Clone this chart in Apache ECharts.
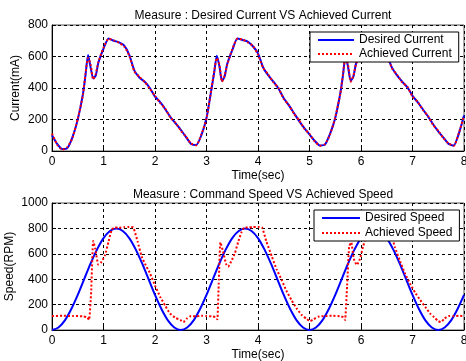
<!DOCTYPE html>
<html>
<head>
<meta charset="utf-8">
<script src="https://cdn.jsdelivr.net/npm/echarts@6/dist/echarts.min.js"></script>
<style>html,body{margin:0;padding:0;background:#fff}#c{width:466px;height:361px}</style>
</head>
<body>
<div id="c"></div>
<script>
// ---- Data ----
const xTicks = [0,1,2,3,4,5,6,7,8];
const currentTicks = [0,200,400,600,800];
const speedTicks = [0,200,400,600,800,1000];

const tCurrent = [0,0.1,0.2,0.3,0.4,0.5,0.6,0.65,0.7,0.75,0.8,0.85,0.9,1.0,1.1,1.2,1.3,1.4,1.5,1.6,1.7,1.8,1.9,2.0,2.1,2.2,2.3,2.4,2.5,2.6,2.7,2.8,2.9,3.0,3.1,3.15,3.2,3.25,3.3,3.35,3.4,3.5,3.6,3.7,3.8,3.9,4.0,4.1,4.2,4.3,4.4,4.5,4.6,4.7,4.8,4.9,5.0,5.1,5.2,5.3,5.4,5.5,5.6,5.65,5.7,5.75,5.8,5.85,5.9,6.0,6.1,6.2,6.3,6.4,6.5,6.6,6.7,6.8,6.9,7.0,7.1,7.2,7.3,7.4,7.5,7.6,7.7,7.8,7.9,8.0];
const desiredCurrent = [100,45,12,20,90,200,360,480,610,530,460,480,560,650,715,700,690,670,610,510,465,440,400,345,310,265,215,175,135,90,45,38,100,210,400,500,605,540,445,470,550,640,715,705,695,665,620,530,480,440,395,335,290,240,190,145,105,65,35,40,110,210,370,480,610,530,445,470,550,645,715,705,690,665,610,530,480,440,405,350,310,265,220,170,125,85,45,35,110,225];
const achievedCurrent = [110,40,8,25,85,205,355,490,590,550,455,490,565,655,712,702,688,665,605,505,470,438,395,350,305,268,212,178,130,92,48,36,105,205,405,505,590,550,440,478,545,645,712,708,690,668,612,528,485,436,398,330,292,236,194,142,108,62,34,44,106,214,366,488,595,545,440,476,548,648,712,702,692,660,612,526,484,436,408,346,312,262,222,166,128,82,48,33,114,222];

const tSpeed = [0,0.125,0.25,0.375,0.5,0.625,0.75,0.875,1,1.125,1.25,1.375,1.5,1.625,1.75,1.875,2,2.125,2.25,2.375,2.5,2.625,2.75,2.875,3,3.125,3.25,3.375,3.5,3.625,3.75,3.875,4,4.125,4.25,4.375,4.5,4.625,4.75,4.875,5,5.125,5.25,5.375,5.5,5.625,5.75,5.875,6,6.125,6.25,6.375,6.5,6.625,6.75,6.875,7,7.125,7.25,7.375,7.5,7.625,7.75,7.875,8];
const desiredSpeed = [0,20,76,165,276,400,524,635,724,780,800,780,724,635,524,400,276,165,76,20,0,20,76,165,276,400,524,635,724,780,800,780,724,635,524,400,276,165,76,20,0,20,76,165,276,400,524,635,724,780,800,780,724,635,524,400,276,165,76,20,0,20,76,165,276];

const tAchSpeed = [0,0.2,0.4,0.6,0.68,0.72,0.76,0.8,0.84,0.9,0.95,1.03,1.1,1.16,1.22,1.3,1.4,1.5,1.58,1.66,1.74,1.82,1.9,2.0,2.1,2.2,2.29,2.4,2.49,2.55,2.62,2.7,2.8,2.9,3.0,3.1,3.18,3.21,3.24,3.27,3.32,3.38,3.42,3.48,3.55,3.62,3.68,3.73,3.8,3.9,4.0,4.08,4.16,4.27,4.36,4.46,4.55,4.65,4.75,4.85,4.95,5.01,5.08,5.17,5.3,5.45,5.6,5.66,5.69,5.73,5.77,5.81,5.86,5.92,5.98,6.04,6.12,6.2,6.35,6.5,6.58,6.66,6.76,6.86,6.95,7.05,7.15,7.25,7.34,7.42,7.5,7.55,7.62,7.7,7.8,7.9,8.0];
const achievedSpeed = [110,112,110,108,100,80,300,700,640,515,530,590,700,790,808,805,810,812,806,700,580,510,450,350,262,190,131,95,79,62,90,110,108,112,110,108,100,84,400,690,620,520,499,540,604,700,770,806,808,810,812,806,700,577,480,394,310,236,170,118,85,70,85,105,110,112,108,100,79,350,656,690,560,512,560,656,760,806,810,810,760,650,540,440,367,295,236,180,131,100,70,62,90,110,108,112,110];

const zip = (a, b) => a.map((x, i) => [x, b[i]]);

// ---- Chart ----
const FONT = 'Liberation Sans, Arial, sans-serif';
const chart = echarts.init(document.getElementById('c'), null, {renderer: 'canvas'});

function xAxisCfg(gi) {
  return {
    type: 'value', gridIndex: gi, min: xTicks[0], max: xTicks[xTicks.length-1], interval: 1,
    name: 'Time(sec)', nameLocation: 'middle', nameGap: 19, nameMoveOverlap: false,
    nameTextStyle: {fontFamily: FONT, fontSize: 12, color: '#000'},
    axisLine: {show: true, lineStyle: {color: '#000', width: 1}},
    axisTick: {show: true, inside: true, length: 4, lineStyle: {color: '#000'}},
    axisLabel: {fontFamily: FONT, fontSize: 12, color: '#000', margin: 5, formatter: v => String(v)},
    splitLine: {show: true, lineStyle: {color: '#000', type: [3,3], width: 1}}
  };
}
function yAxisCfg(gi, ticks, name, gap) {
  return {
    type: 'value', gridIndex: gi, min: ticks[0], max: ticks[ticks.length-1], interval: 200,
    name: name, nameLocation: 'middle', nameGap: gap, nameRotate: 90, nameMoveOverlap: false,
    nameTextStyle: {fontFamily: FONT, fontSize: 12, color: '#000'},
    axisLine: {show: true, lineStyle: {color: '#000', width: 1}},
    axisTick: {show: true, inside: true, length: 4, lineStyle: {color: '#000'}},
    axisLabel: {fontFamily: FONT, fontSize: 12, color: '#000', margin: 4, formatter: v => String(v)},
    splitLine: {show: true, lineStyle: {color: '#000', type: [3,3], width: 1}}
  };
}

const legendBase = {
  orient: 'vertical', backgroundColor: '#fff', borderColor: '#000', borderWidth: 1, borderRadius: 0,
  itemStyle: {opacity: 0}, itemHeight: 14,
  textStyle: {fontFamily: FONT, fontSize: 12, color: '#000'}
};

const option = {
  animation: false,
  backgroundColor: '#fff',
  title: [
    {text: 'Measure : Desired Current VS Achieved Current', left: 258, top: 5, textAlign: 'center',
     textStyle: {fontFamily: FONT, fontSize: 12, fontWeight: 'normal', color: '#000'}},
    {text: 'Measure : Command Speed VS Achieved Speed', left: 258, top: 184, textAlign: 'center',
     textStyle: {fontFamily: FONT, fontSize: 12, fontWeight: 'normal', color: '#000'}}
  ],
  grid: [
    {left: 52, right: 2, top: 25, height: 126, containLabel: false, outerBoundsMode: 'none',
     show: true, borderColor: '#555', borderWidth: 1, backgroundColor: '#fff'},
    {left: 52, right: 2, top: 203, height: 127, containLabel: false, outerBoundsMode: 'none',
     show: true, borderColor: '#555', borderWidth: 1, backgroundColor: '#fff'}
  ],
  xAxis: [xAxisCfg(0), xAxisCfg(1)],
  yAxis: [yAxisCfg(0, currentTicks, 'Current(mA)', 30), yAxisCfg(1, speedTicks, 'Speed(RPM)', 36)],
  legend: [
    Object.assign({}, legendBase, {data: ['Desired Current', 'Achieved Current'], left: 310, top: 32,
      itemWidth: 36, itemGap: 2, padding: [2, 7, 2, 7]}),
    Object.assign({}, legendBase, {data: ['Desired Speed', 'Achieved Speed'], left: 314, top: 210,
      itemWidth: 38, itemGap: 3, padding: [2, 7, 2, 7]})
  ],
  series: [
    {name: 'Desired Current', type: 'line', xAxisIndex: 0, yAxisIndex: 0, symbol: 'none', smooth: 0.2,
     data: zip(tCurrent, desiredCurrent), lineStyle: {color: '#0000ff', width: 2}, itemStyle: {color: '#0000ff'}, z: 2},
    {name: 'Achieved Current', type: 'line', xAxisIndex: 0, yAxisIndex: 0, symbol: 'none', smooth: 0.2,
     data: zip(tCurrent, achievedCurrent), lineStyle: {color: '#ff0000', width: 2, type: [2,2]}, itemStyle: {color: '#ff0000'}, z: 3},
    {name: 'Desired Speed', type: 'line', xAxisIndex: 1, yAxisIndex: 1, symbol: 'none', smooth: 0.3,
     data: zip(tSpeed, desiredSpeed), lineStyle: {color: '#0000ff', width: 2}, itemStyle: {color: '#0000ff'}, z: 2},
    {name: 'Achieved Speed', type: 'line', xAxisIndex: 1, yAxisIndex: 1, symbol: 'none', smooth: 0.15,
     data: zip(tAchSpeed, achievedSpeed), lineStyle: {color: '#ff0000', width: 2, type: [2,2]}, itemStyle: {color: '#ff0000'}, z: 3}
  ]
};
chart.setOption(option);
</script>
</body>
</html>
